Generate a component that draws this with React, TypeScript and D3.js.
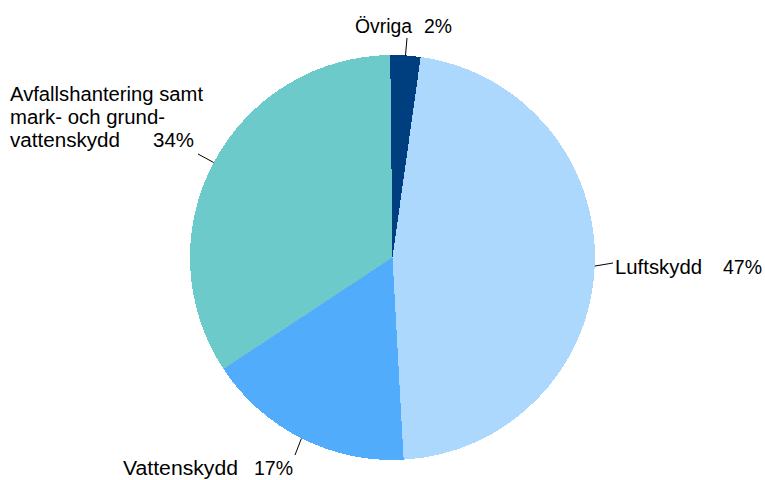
import React from "react";
import * as d3 from "d3";

const categories = ["Luftskydd", "Vattenskydd", "Avfallshantering samt mark- och grundvattenskydd", "Övriga"];
const values = [46.9, 16.6, 34.1, 2.4];
const colors = ["#acd8fd", "#51adfc", "#6dcaca", "#003f7f"];
const labelLines = [["Luftskydd"], ["Vattenskydd"], ["Avfallshantering samt", "mark- och grund-", "vattenskydd"], ["Övriga"]];

// layout of labels (positions only)
const labelLayout = [
  { x: 615, y: 274, widths: [87], pctX: 723, pctW: 39, end: [613, 263] },
  { x: 123, y: 475, widths: [115], pctX: 254, pctW: 39, end: [295, 455] },
  { x: 10, y: 101, widths: [193, 155, 110], pctX: 153, pctW: 41, end: [198, 154] },
  { x: 355, y: 33, widths: [57], pctX: 424, pctW: 28, end: [407, 38] },
];

const W = 765, H = 480;
const cx = 392.5, cy = 257.5, R = 202.5;
const lineH = 23;

export default function App() {
  const start = (8 * Math.PI) / 180;
  const pie = d3.pie<number>().sort(null).value((d) => d).startAngle(start).endAngle(start + 2 * Math.PI);
  const arcs = pie(values);
  const arc = d3.arc<d3.PieArcDatum<number>>().innerRadius(0).outerRadius(R);
  const total = d3.sum(values);
  return (
    <div style={{ position: "fixed", left: 0, top: 0 }}>
      <svg width={W} height={H} style={{ display: "block", background: "#fff" }}
        fontFamily="'Liberation Sans', Arial, sans-serif" fontSize={20}>
        <g transform={`translate(${cx},${cy})`}>
          {arcs.map((a, i) => (
            <path key={i} d={arc(a) || ""} fill={colors[i]} shapeRendering="crispEdges" />
          ))}
        </g>
        {arcs.map((a, i) => {
          const mid = (a.startAngle + a.endAngle) / 2;
          const sx = cx + R * Math.sin(mid);
          const sy = cy - R * Math.cos(mid);
          const L = labelLayout[i];
          const lines = labelLines[i];
          const pct = `${Math.round((values[i] / total) * 100)}%`;
          const lastY = L.y + (lines.length - 1) * lineH;
          return (
            <g key={i}>
              <line x1={sx} y1={sy} x2={L.end[0]} y2={L.end[1]} stroke="#000" strokeWidth={1} />
              {lines.map((t, j) => (
                <text key={j} x={L.x} y={L.y + j * lineH} fill="#000" textLength={L.widths[j]} lengthAdjust="spacingAndGlyphs">
                  {t}
                </text>
              ))}
              <text x={L.pctX} y={lastY} fill="#000" textLength={L.pctW} lengthAdjust="spacingAndGlyphs">
                {pct}
              </text>
            </g>
          );
        })}
      </svg>
    </div>
  );
}
